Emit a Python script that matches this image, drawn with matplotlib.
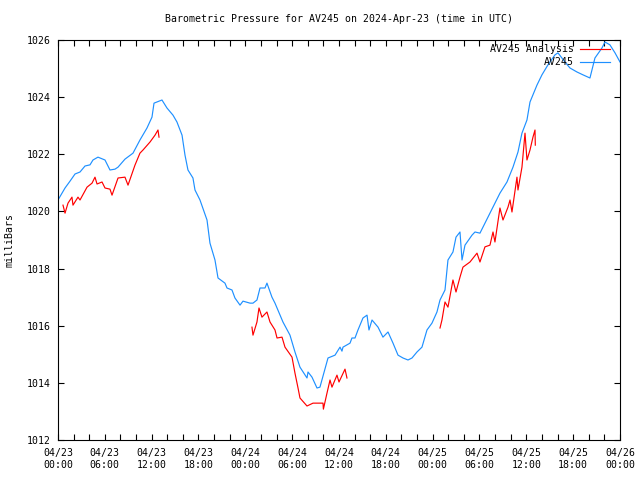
#!/usr/bin/env python3
"""
Barometric pressure chart for AV245 (gnuplot look)
"""
import numpy as np
import matplotlib
matplotlib.use("Agg")
import matplotlib.pyplot as plt
import matplotlib.dates as mdates
from datetime import datetime, timedelta

START = datetime(2024, 4, 23, 0, 0)

# AV245 observed pressure: hours since start, millibars
av245_hours = [0.0, 0.9, 1.54, 2.18, 2.82, 3.46, 4.1, 4.48, 5.12, 6.02, 6.66, 7.3, 7.69,
               8.58, 9.61, 10.5, 11.4, 12.04, 12.3, 13.32, 13.96, 14.73, 15.24, 15.89,
               16.27, 16.65, 17.29, 17.55, 18.19, 19.09, 19.47, 20.11, 20.5, 21.39,
               21.65, 22.29, 22.67, 23.32, 23.7, 24.6, 24.98, 25.49, 25.88, 26.52,
               26.77, 27.41, 27.8, 28.82, 29.72, 30.36, 31.0, 31.9, 32.03, 32.54,
               33.18, 33.56, 34.59, 35.49, 36.13, 36.38, 36.51, 37.41, 37.66, 38.05,
               38.43, 39.07, 39.59, 39.84, 40.23, 41.0, 41.63, 42.28, 42.92, 43.56,
               44.2, 44.84, 45.35, 45.99, 46.63, 47.27, 47.91, 48.55, 48.94, 49.58,
               49.96, 50.6, 50.99, 51.5, 51.76, 52.14, 53.04, 53.42, 54.06, 54.7,
               55.34, 55.98, 56.62, 57.52, 58.29, 58.93, 59.44, 60.08, 60.47, 61.36,
               62.0, 62.77, 63.67, 64.05, 64.95, 65.59, 66.49, 67.26, 68.15, 68.79,
               69.69, 70.07, 70.71, 71.36, 72.0]
av245_mb = [1020.4, 1020.82, 1021.06, 1021.31, 1021.38, 1021.59, 1021.63, 1021.8, 1021.9,
            1021.8, 1021.45, 1021.48, 1021.55, 1021.83, 1022.04, 1022.5, 1022.92, 1023.3,
            1023.79, 1023.9, 1023.62, 1023.37, 1023.13, 1022.67, 1021.97, 1021.45,
            1021.17, 1020.75, 1020.4, 1019.7, 1018.89, 1018.3, 1017.67, 1017.49,
            1017.32, 1017.25, 1016.97, 1016.72, 1016.86, 1016.79, 1016.79, 1016.9,
            1017.32, 1017.32, 1017.49, 1017.0, 1016.79, 1016.13, 1015.67, 1015.08,
            1014.55, 1014.17, 1014.38, 1014.2, 1013.82, 1013.85, 1014.87, 1014.97,
            1015.25, 1015.11, 1015.25, 1015.39, 1015.57, 1015.57, 1015.85, 1016.27,
            1016.37, 1015.85, 1016.2, 1015.95, 1015.6, 1015.78, 1015.39, 1014.97,
            1014.87, 1014.8, 1014.87, 1015.08, 1015.25, 1015.85, 1016.09, 1016.48,
            1016.9, 1017.25, 1018.3, 1018.58, 1019.1, 1019.28, 1018.3, 1018.82,
            1019.17, 1019.28, 1019.24, 1019.59, 1019.94, 1020.29, 1020.64, 1021.03,
            1021.55, 1022.08, 1022.74, 1023.2, 1023.83, 1024.42, 1024.78, 1025.13,
            1025.48, 1025.55, 1025.23, 1025.02, 1024.88, 1024.78, 1024.67, 1025.37,
            1025.72, 1025.93, 1025.83, 1025.55, 1025.23]

# AV245 Analysis, three separate runs
analysis1_hours = [0.64, 0.9, 1.28, 1.79, 1.92, 2.56, 2.82, 3.72, 4.36, 4.74, 5.0, 5.64,
                   6.02, 6.66, 6.92, 7.69, 8.58, 8.97, 9.86, 10.5, 10.89, 11.79, 12.43,
                   12.81, 12.94]
analysis1_mb = [1020.22, 1019.94, 1020.29, 1020.5, 1020.22, 1020.5, 1020.4, 1020.85,
                1020.99, 1021.2, 1020.96, 1021.03, 1020.82, 1020.78, 1020.57, 1021.17,
                1021.2, 1020.92, 1021.62, 1022.04, 1022.15, 1022.43, 1022.67, 1022.85,
                1022.6]

analysis2_hours = [24.85, 24.98, 25.49, 25.75, 26.13, 26.77, 27.16, 27.8, 28.06, 28.7,
                   29.08, 29.98, 30.36, 30.75, 31.0, 31.9, 32.67, 33.31, 33.95, 34.0,
                   34.46, 34.85, 35.1, 35.74, 36.0, 36.77, 37.02]
analysis2_mb = [1015.95, 1015.67, 1016.13, 1016.62, 1016.3, 1016.48, 1016.13, 1015.85,
                1015.57, 1015.6, 1015.25, 1014.9, 1014.34, 1013.82, 1013.47, 1013.19,
                1013.29, 1013.29, 1013.29, 1013.08, 1013.64, 1014.1, 1013.85, 1014.27,
                1014.03, 1014.48, 1014.17]

analysis3_hours = [48.94, 49.19, 49.58, 49.96, 50.6, 50.99, 51.5, 51.88, 52.78, 53.68,
                   54.06, 54.7, 55.34, 55.73, 55.98, 56.62, 57.01, 57.65, 57.91, 58.16,
                   58.8, 58.93, 59.44, 59.83, 60.08, 60.47, 60.85, 61.11, 61.15]
analysis3_mb = [1015.92, 1016.2, 1016.83, 1016.65, 1017.6, 1017.18, 1017.7, 1018.05,
                1018.23, 1018.54, 1018.23, 1018.76, 1018.82, 1019.28, 1018.93, 1020.12,
                1019.7, 1020.15, 1020.4, 1019.98, 1021.2, 1020.75, 1021.55, 1022.74,
                1021.8, 1022.15, 1022.6, 1022.85, 1022.32]

yticks = [1012, 1014, 1016, 1018, 1020, 1022, 1024, 1026]

RED = '#ff0000'
BLUE = '#1e90ff'
FONT = 'DejaVu Sans Mono'
FS = 7.1
LW = 0.85


def to_times(hours):
    return [START + timedelta(hours=h) for h in hours]


fig = plt.figure(figsize=(6.4, 4.8), dpi=100)
fig.patch.set_facecolor('white')
ax = fig.add_axes([58 / 640, 40 / 480, 562 / 640, 400 / 480])

# Analysis runs first, observed line drawn on top
for hrs, vals in [(analysis1_hours, analysis1_mb),
                  (analysis2_hours, analysis2_mb),
                  (analysis3_hours, analysis3_mb)]:
    ax.plot(to_times(hrs), vals, color=RED, linewidth=LW)
ax.plot(to_times(av245_hours), av245_mb, color=BLUE, linewidth=LW)

ax.set_xlim(START, START + timedelta(hours=72))
ax.set_ylim(1012, 1026)
ax.set_yticks(yticks)
ax.set_yticklabels([str(v) for v in yticks], fontfamily=FONT, fontsize=FS)

ax.xaxis.set_major_locator(mdates.HourLocator(byhour=range(0, 24, 6)))
ax.xaxis.set_minor_locator(mdates.HourLocator(byhour=range(0, 24, 2)))
ax.xaxis.set_major_formatter(mdates.DateFormatter('%m/%d\n%H:%M'))
for lbl in ax.get_xticklabels():
    lbl.set_fontfamily(FONT)
    lbl.set_fontsize(FS)
    lbl.set_linespacing(1.25)

ax.tick_params(axis='both', which='both', direction='in', top=True, right=True,
               length=4.5, width=0.8, colors='black')
ax.tick_params(axis='x', which='major', pad=6, labelsize=FS)
ax.tick_params(axis='y', which='major', pad=5, labelsize=FS)
for lbl in ax.get_xticklabels() + ax.get_yticklabels():
    lbl.set_fontfamily(FONT)

for sp in ax.spines.values():
    sp.set_linewidth(0.8)
    sp.set_color('black')

# gnuplot style key: right-aligned labels, line sample to the right
key = [('AV245 Analysis', RED, 0.9775), ('AV245', BLUE, 0.945)]
for label, col, ky in key:
    ax.text(0.918, ky, label, transform=ax.transAxes, ha='right', va='center',
            fontfamily=FONT, fontsize=FS)
    ax.plot([0.929, 0.982], [ky, ky], transform=ax.transAxes, color=col,
            linewidth=LW, clip_on=False)

fig.text(339 / 640, 1 - 19 / 480,
         'Barometric Pressure for AV245 on 2024-Apr-23 (time in UTC)',
         ha='center', va='center', fontfamily=FONT, fontsize=FS)
fig.text(10 / 640, 0.5, 'milliBars', rotation=90, ha='center', va='center',
         fontfamily=FONT, fontsize=FS)

fig.savefig('out.png', dpi=100, facecolor='white')
